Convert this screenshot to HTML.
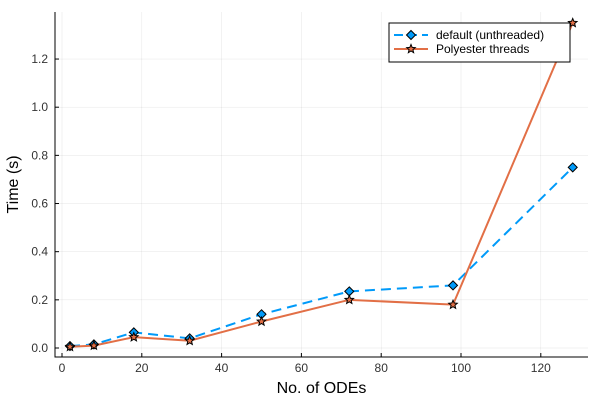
<!DOCTYPE html>
<html><head><style>
body{margin:0;background:#fff;font-family:"Liberation Sans","DejaVu Sans",sans-serif}
</style></head><body>
<svg id="c" width="600" height="400" xmlns="http://www.w3.org/2000/svg"></svg>
<script>
const xs=[2,8,18,32,50,72,98,128];
const defaultVals=[0.008,0.015,0.065,0.04,0.14,0.235,0.26,0.75];
const polyVals=[0.005,0.01,0.045,0.03,0.11,0.2,0.18,1.35];
const xTicks=[0,20,40,60,80,100,120];
const yTicks=[0,0.2,0.4,0.6,0.8,1.0,1.2];
const NS="http://www.w3.org/2000/svg";
const svg=document.getElementById('c');
const L=55,R=588,T=12,B=357;
const X=v=>62+v*3.99;
const Y=v=>348-v*240.8;
function mk(t,a,p){const e=document.createElementNS(NS,t);for(const k in a)e.setAttribute(k,a[k]);(p||svg).appendChild(e);return e;}
const grid=mk('g',{});


xTicks.forEach(v=>{mk('line',{x1:X(v),x2:X(v),y1:T,y2:B,stroke:'#000','stroke-opacity':0.1,'stroke-width':0.5},grid);
 const t=mk('text',{x:X(v),y:372,'font-size':12,'text-anchor':'middle',fill:'#333'});t.textContent=v;
 
 mk('line',{x1:X(v),x2:X(v),y1:B,y2:B-4,stroke:'#000','stroke-width':1});});
yTicks.forEach(v=>{mk('line',{x1:L,x2:R,y1:Y(v),y2:Y(v),stroke:'#000','stroke-opacity':0.1,'stroke-width':0.5},grid);
 const t=mk('text',{x:48,y:Y(v)+4,'font-size':12,'text-anchor':'end',fill:'#333'});t.textContent=v.toFixed(1);
 
 mk('line',{x1:L,x2:L+4,y1:Y(v),y2:Y(v),stroke:'#000','stroke-width':1});});
const ax=mk('path',{d:`M${L},${T}V${B}H${R}`,fill:'none',stroke:'#000','stroke-width':1});

let t=mk('text',{x:(L+R)/2,y:393,'font-size':16,'text-anchor':'middle'});t.textContent='No. of ODEs';

t=mk('text',{x:18,y:(T+B)/2,'font-size':16,'text-anchor':'middle',transform:`rotate(-90 18 ${(T+B)/2})`});t.textContent='Time (s)';

function diamond(x,y,p){return mk('path',{d:`M${x},${y-4.5}L${x+4.5},${y}L${x},${y+4.5}L${x-4.5},${y}Z`,fill:'#009af9',stroke:'#000','stroke-width':1},p);}
function star(x,y,p){let d='';for(let i=0;i<10;i++){const r=i%2?2:4.5,a=-Math.PI/2+i*Math.PI/5;d+=(i?'L':'M')+(x+r*Math.cos(a)).toFixed(2)+','+(y+r*Math.sin(a)).toFixed(2);}return mk('path',{d:d+'Z',fill:'#e26f46',stroke:'#000','stroke-width':1},p);}
const s1=mk('polyline',{points:xs.map((x,i)=>X(x)+','+Y(defaultVals[i])).join(' '),fill:'none',stroke:'#009af9','stroke-width':2,'stroke-dasharray':'10,6'});

const s2=mk('polyline',{points:xs.map((x,i)=>X(x)+','+Y(polyVals[i])).join(' '),fill:'none',stroke:'#e26f46','stroke-width':2});

xs.forEach((x,i)=>{const m=diamond(X(x),Y(defaultVals[i]));});
xs.forEach((x,i)=>{const m=star(X(x),Y(polyVals[i]));});
const lg=mk('g',{});
mk('rect',{x:389,y:23,width:181,height:39,fill:'#fff',stroke:'#000','stroke-width':1},lg);
mk('line',{x1:394,x2:428,y1:35,y2:35,stroke:'#009af9','stroke-width':2,'stroke-dasharray':'9,5'},lg);diamond(411,35,lg);
mk('line',{x1:394,x2:428,y1:49,y2:49,stroke:'#e26f46','stroke-width':2},lg);star(411,49,lg);
t=mk('text',{x:436,y:39,'font-size':12},lg);t.textContent='default (unthreaded)';
t=mk('text',{x:436,y:53,'font-size':12},lg);t.textContent='Polyester threads';
</script>
</body></html>
